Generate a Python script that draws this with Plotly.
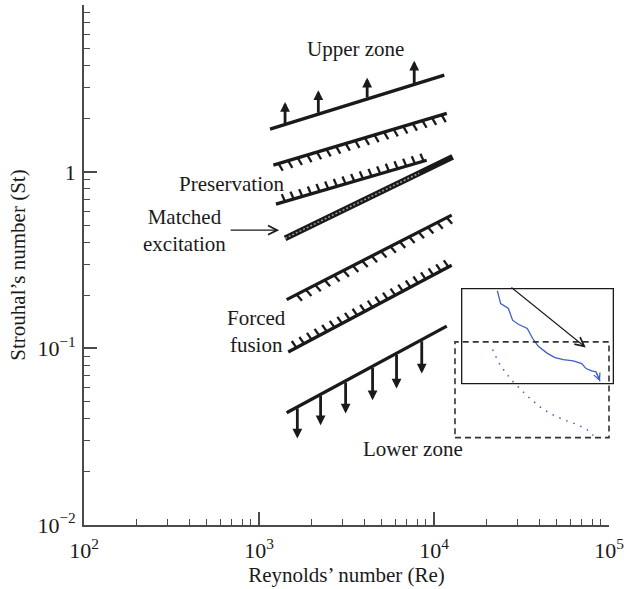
import math
import plotly.graph_objects as go

# ---------------- data ----------------
# boundary lines: Reynolds number (start, end) and Strouhal number (start, end)
upper_re = [1156, 11455]
upper_st = [1.746, 3.532]
hatch2_re = [1208, 11830]
hatch2_st = [1.091, 2.143]
preserv_re = [1250, 9078]
preserv_st = [0.656, 1.164]
matched_re = [1409, 12790]
matched_st = [0.420, 1.216]
hatch5_re = [1439, 12620]
hatch5_st = [0.189, 0.569]
fusion_re = [1469, 12620]
fusion_st = [0.0955, 0.296]
lower_re = [1439, 11830]
lower_st = [0.0432, 0.1337]

# arrows: positions along the line and tip values
upper_arrow_re = [1409, 2183, 4150, 7709]
upper_arrow_tip_st = [2.49, 2.90, 3.41, 4.26]
lower_arrow_re = [1656, 2249, 3126, 4457, 6109, 8511]
lower_arrow_tip_st = [0.0309, 0.0367, 0.0428, 0.0509, 0.0593, 0.0721]

# inset sketch
inset_box_re = [14390, 105900]
inset_box_st = [0.0632, 0.2183]
dash_box_re = [13180, 100000]
dash_box_st = [0.03126, 0.1089]
blue_re = [23010, 24040, 26610, 28120, 30340, 34120, 36640, 39450, 44060,
           49090, 54830, 62520, 69820, 73960, 79620, 84330, 88920]
blue_st = [0.2118, 0.1795, 0.1683, 0.1445, 0.1371, 0.1297, 0.1138, 0.1028,
           0.0944, 0.0887, 0.0865, 0.0849, 0.0820, 0.0769, 0.0746, 0.0736, 0.0652]
dot_re = [21630, 23280, 25470, 28380, 31700, 35400, 40360, 46030, 54830,
          65310, 74470, 81280]
dot_st = [0.0986, 0.0839, 0.0736, 0.0646, 0.0579, 0.0520, 0.0467, 0.0428,
          0.0395, 0.0372, 0.0348, 0.0322]
black_arrow_re = [27160, 73620]
black_arrow_st = [0.2249, 0.1012]

x_tick_vals = [1e2, 1e3, 1e4, 1e5]
x_tick_text = ["10<sup>2</sup>", "10<sup>3</sup>", "10<sup>4</sup>", "10<sup>5</sup>"]
y_tick_vals = [1e-2, 1e-1, 1]
y_tick_text = ["10<sup>\u22122</sup>", "10<sup>\u22121</sup>", "1"]

# ---------------- layout constants ----------------
W, H = 624, 589
ML, MR, MT, MB = 84, 15, 5, 64
XR = [2, 5]
YR = [-2, 0.945]
PXX = (W - ML - MR) / (XR[1] - XR[0])
PXY = (H - MT - MB) / (YR[1] - YR[0])
FONT = "Liberation Serif"
INK = "#1a1a1a"
AX = "#4a4a4a"
BLUE = "#3d5fc4"

lg = math.log10


def hatch_trace(res, sts, n, side, length, t0=0.03, t1=0.97, lean=0.0):
    x0, x1 = lg(res[0]), lg(res[1])
    y0, y1 = lg(sts[0]), lg(sts[1])
    dx, dy = (x1 - x0) * PXX, (y1 - y0) * PXY
    L = math.hypot(dx, dy)
    ux, uy = dx / L, dy / L
    nx, ny = -uy, ux
    xs, ys = [], []
    for i in range(n):
        t = t0 + (t1 - t0) * i / (n - 1)
        bx, by = x0 + t * (x1 - x0), y0 + t * (y1 - y0)
        tx = bx + (side * length * nx + lean * ux) / PXX
        ty = by + (side * length * ny + lean * uy) / PXY
        xs += [10 ** bx, 10 ** tx, None]
        ys += [10 ** by, 10 ** ty, None]
    return go.Scatter(x=xs, y=ys, mode="lines", hoverinfo="skip",
                      line=dict(color=INK, width=2.3), showlegend=False)


def line_trace(res, sts, width=3.3, color=INK, dash=None):
    return go.Scatter(x=res, y=sts, mode="lines", hoverinfo="skip",
                      line=dict(color=color, width=width, dash=dash),
                      showlegend=False)


fig = go.Figure()

# main lines
for r, s in [(upper_re, upper_st), (hatch2_re, hatch2_st), (preserv_re, preserv_st),
             (hatch5_re, hatch5_st), (fusion_re, fusion_st), (lower_re, lower_st)]:
    fig.add_trace(line_trace(r, s))

# matched excitation thick band
fig.add_trace(line_trace(matched_re, matched_st, width=6))
fig.add_trace(go.Scatter(x=[matched_re[0], 10 ** (lg(matched_re[0]) + 0.8 * (lg(matched_re[1]) - lg(matched_re[0])))],
                         y=[matched_st[0], 10 ** (lg(matched_st[0]) + 0.8 * (lg(matched_st[1]) - lg(matched_st[0])))],
                         mode="lines", hoverinfo="skip", showlegend=False,
                         line=dict(color="#9a9a9a", width=1.6, dash="2px,2px")))

# hatches
fig.add_trace(hatch_trace(hatch2_re, hatch2_st, 18, -1, 8, lean=2))
fig.add_trace(hatch_trace(preserv_re, preserv_st, 17, 1, 8, t0=0.06, t1=0.98, lean=-1))
fig.add_trace(hatch_trace(hatch5_re, hatch5_st, 17, -1, 8, t0=0.06, lean=2))
fig.add_trace(hatch_trace(fusion_re, fusion_st, 21, 1, 8, t0=0.05, t1=0.98, lean=-1))

# inset curves
fig.add_trace(go.Scatter(x=blue_re, y=blue_st, mode="lines", hoverinfo="skip", showlegend=False,
                         line=dict(color=BLUE, width=1.3)))
fig.add_trace(go.Scatter(x=dot_re, y=dot_st, mode="lines", hoverinfo="skip", showlegend=False,
                         line=dict(color=BLUE, width=1.5, dash="1.5px,6px")))

annotations = []


def interp_line(res, sts, re):
    x0, x1 = lg(res[0]), lg(res[1])
    y0, y1 = lg(sts[0]), lg(sts[1])
    return y0 + (lg(re) - x0) * (y1 - y0) / (x1 - x0)


for re, tip in zip(upper_arrow_re, upper_arrow_tip_st):
    annotations.append(dict(x=lg(re), y=lg(tip), ax=lg(re), ay=interp_line(upper_re, upper_st, re),
                            xref="x", yref="y", axref="x", ayref="y", text="", showarrow=True,
                            arrowhead=2, arrowsize=0.7, arrowwidth=2.8, arrowcolor=INK))
for re, tip in zip(lower_arrow_re, lower_arrow_tip_st):
    annotations.append(dict(x=lg(re), y=lg(tip), ax=lg(re), ay=interp_line(lower_re, lower_st, re),
                            xref="x", yref="y", axref="x", ayref="y", text="", showarrow=True,
                            arrowhead=2, arrowsize=0.7, arrowwidth=2.8, arrowcolor=INK))

# inset arrows
annotations.append(dict(x=lg(black_arrow_re[1]), y=lg(black_arrow_st[1]),
                        ax=lg(black_arrow_re[0]), ay=lg(black_arrow_st[0]),
                        xref="x", yref="y", axref="x", ayref="y", text="", showarrow=True,
                        arrowhead=5, arrowsize=1.6, arrowwidth=1.1, arrowcolor=INK))
annotations.append(dict(x=lg(blue_re[-1]), y=lg(blue_st[-1]),
                        ax=lg(blue_re[-2]), ay=lg(blue_st[-2]),
                        xref="x", yref="y", axref="x", ayref="y", text="", showarrow=True,
                        arrowhead=5, arrowsize=1.3, arrowwidth=1.0, arrowcolor=BLUE))

# matched excitation pointer
annotations.append(dict(x=3.115, y=-0.330, ax=-50, ay=0, xref="x", yref="y", text="",
                        showarrow=True, arrowhead=5, arrowsize=1.5, arrowwidth=1.2, arrowcolor=INK))

labels = [
    ("Upper zone", 3.549, 0.695),
    ("Preservation", 2.840, -0.070),
    ("Matched<br>excitation", 2.577, -0.330),
    ("Forced<br>fusion", 2.986, -0.903),
    ("Lower zone", 3.880, -1.571),
]
for txt, x, y in labels:
    annotations.append(dict(x=x, y=y, xref="x", yref="y", text=txt, showarrow=False,
                            font=dict(family=FONT, size=21, color=INK), align="center"))


def to_px(v, rng):
    return (lg(v) - rng[0]) / (rng[1] - rng[0])


shapes = [
    dict(type="rect", xref="paper", yref="paper",
         x0=to_px(inset_box_re[0], XR), x1=to_px(inset_box_re[1], XR),
         y0=to_px(inset_box_st[0], YR), y1=to_px(inset_box_st[1], YR),
         line=dict(color=INK, width=1.3)),
    dict(type="rect", xref="paper", yref="paper",
         x0=to_px(dash_box_re[0], XR), x1=to_px(dash_box_re[1], XR),
         y0=to_px(dash_box_st[0], YR), y1=to_px(dash_box_st[1], YR),
         line=dict(color="#333333", width=1.6, dash="6px,4px")),
]

minor_x = [m * 10 ** d for d in range(2, 5) for m in range(2, 10)]
minor_y = [m * 10 ** d for d in range(-2, 1) for m in range(2, 10) if m * 10 ** d < 10 ** YR[1]]

axis_common = dict(
    type="log", showgrid=False, zeroline=False, showline=True, linecolor=AX, linewidth=1.6,
    ticks="inside", ticklen=13, tickwidth=1.6, tickcolor=AX, mirror=False,
    tickfont=dict(family=FONT, size=22, color=INK),
    ticklabeloverflow="allow", automargin=False,
)

fig.update_layout(
    width=W, height=H,
    margin=dict(l=ML, r=MR, t=MT, b=MB, pad=0),
    paper_bgcolor="white", plot_bgcolor="white",
    showlegend=False,
    xaxis=dict(range=XR, tickvals=x_tick_vals, ticktext=x_tick_text,
               ticklabelstandoff=5,
               minor=dict(tickvals=minor_x, ticks="inside", ticklen=6, tickwidth=1.3,
                          tickcolor=AX, showgrid=False),
               title=dict(text="Reynolds\u2019 number (Re)", standoff=0,
                          font=dict(family=FONT, size=21, color=INK)),
               **axis_common),
    yaxis=dict(range=YR, tickvals=y_tick_vals, ticktext=y_tick_text,
               ticklabelstandoff=2,
               minor=dict(tickvals=minor_y, ticks="inside", ticklen=6, tickwidth=1.3,
                          tickcolor=AX, showgrid=False),
               title=dict(text="Strouhal\u2019s number (St)", standoff=6,
                          font=dict(family=FONT, size=21, color=INK)),
               **axis_common),
    annotations=annotations,
    shapes=shapes,
)

fig.write_html("out.html")
